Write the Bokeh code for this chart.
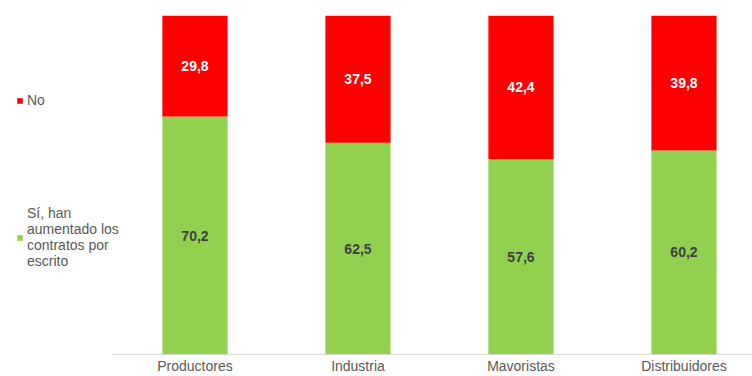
from bokeh.plotting import figure
from bokeh.models import ColumnDataSource, LabelSet, Legend, LegendItem, FixedTicker, Range1d
from bokeh.core.properties import value
from bokeh.embed import file_html
from bokeh.resources import INLINE

categories = ["Productores", "Industria", "Mavoristas", "Distribuidores"]
si_values = [70.2, 62.5, 57.6, 60.2]
no_values = [29.8, 37.5, 42.4, 39.8]
series_labels = ["Sí, han\naumentado los\ncontratos por\nescrito", "No"]

FONT = "Liberation Sans"
GREEN = "#92D050"
RED = "#FF0000"

xs = list(range(len(categories)))
src = ColumnDataSource(dict(
    x=xs,
    si=si_values,
    no=no_values,
    si_mid=[s / 2 for s in si_values],
    no_mid=[s + n / 2 for s, n in zip(si_values, no_values)],
    si_txt=[f"{v:.1f}".replace(".", ",") for v in si_values],
    no_txt=[f"{v:.1f}".replace(".", ",") for v in no_values],
))

p = figure(width=752, height=376,
           x_range=Range1d(-1.1931, 3.4204), y_range=Range1d(0, 100),
           output_backend="svg", toolbar_location=None,
           y_axis_location=None,
           min_border_left=0, min_border_right=0,
           min_border_top=15, min_border_bottom=22)
p.outline_line_color = None
p.grid.visible = False
p.background_fill_color = "white"

renderers = p.vbar_stack(["si", "no"], x="x", width=0.40, source=src,
                         color=[GREEN, RED], line_color=None)

p.xaxis.bounds = (-0.506, 3.4204)
p.xaxis.ticker = FixedTicker(ticks=xs)
p.xaxis.major_label_overrides = {i: c for i, c in enumerate(categories)}
p.xaxis.major_tick_line_color = None
p.xaxis.major_tick_out = 0
p.xaxis.major_tick_in = 0
p.xaxis.minor_tick_line_color = None
p.xaxis.axis_line_color = "#D9D9D9"
p.xaxis.axis_line_width = 1
p.xaxis.major_label_text_font = FONT
p.xaxis.major_label_text_font_size = "14px"
p.xaxis.major_label_text_color = "#595959"
p.xaxis.major_label_standoff = 3

p.add_layout(LabelSet(x="x", y="si_mid", text="si_txt", source=src,
                      text_align="center", text_baseline="middle",
                      text_font=value(FONT), text_font_size="14px", text_font_style="bold",
                      text_color="#404040"))
p.add_layout(LabelSet(x="x", y="no_mid", text="no_txt", source=src,
                      text_align="center", text_baseline="middle",
                      text_font=value(FONT), text_font_size="14px", text_font_style="bold",
                      text_color="white"))

legend = Legend(items=[LegendItem(label=series_labels[1], renderers=[renderers[1]]),
                       LegendItem(label=series_labels[0], renderers=[renderers[0]])],
                location=(16, 85), padding=0, margin=0, spacing=97,
                glyph_width=7, glyph_height=7, label_standoff=4,
                label_text_font=FONT, label_text_font_size="14px",
                label_text_color="#595959", label_text_line_height=1.15,
                border_line_color=None, background_fill_alpha=0)
p.add_layout(legend, "center")

open("out.html", "w").write(file_html(p, INLINE))
